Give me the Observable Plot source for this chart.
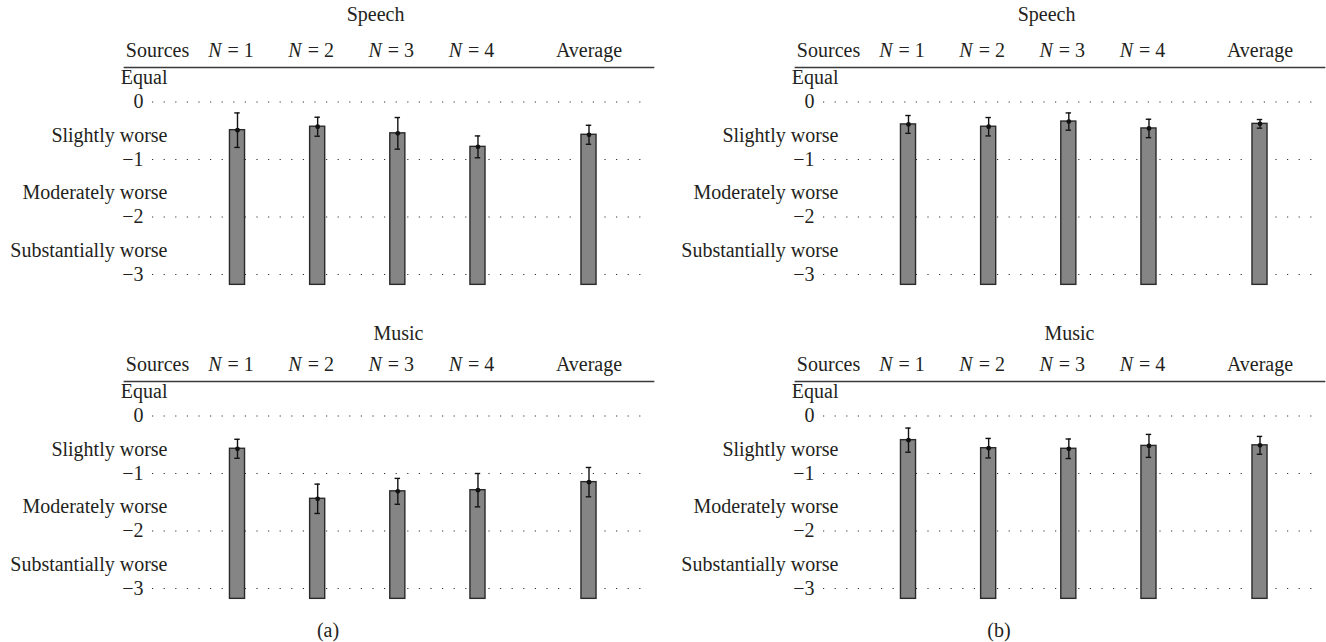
<!DOCTYPE html>
<html>
<head>
<meta charset="utf-8">
<script src="https://cdn.jsdelivr.net/npm/d3@7"></script>
<script src="https://cdn.jsdelivr.net/npm/@observablehq/plot@0.6"></script>
<style>
  html, body { margin: 0; padding: 0; background: #fff; }
  #figure {
    position: relative; width: 1326px; height: 642px; overflow: hidden;
    font-family: "Liberation Serif", "DejaVu Serif", serif; color: #231f20;
  }
  .panel { position: absolute; width: 655px; }
  .panel svg { display: block; }
  .caption {
    position: absolute; top: 618px; width: 60px; margin-left: -30px;
    text-align: center; font-size: 20px; line-height: 24px;
  }
</style>
</head>
<body>
<div id="figure"></div>
<script>
// Source conditions along the horizontal axis
const sources = ["N = 1", "N = 2", "N = 3", "N = 4", "Average"];

// Rating scale (ticks and their verbal anchors)
const ratingTicks = [0, -1, -2, -3];
const ratingLabels = ["Equal", "Slightly worse", "Moderately worse", "Substantially worse"];

// Mean ratings and error-bar half-widths, condition (a)
const speechMeanA = [-0.49, -0.43, -0.545, -0.78, -0.57];
const speechErrA  = [0.30, 0.165, 0.275, 0.19, 0.165];
const musicMeanA  = [-0.57, -1.44, -1.31, -1.29, -1.15];
const musicErrA   = [0.165, 0.255, 0.225, 0.29, 0.255];

// Mean ratings and error-bar half-widths, condition (b)
const speechMeanB = [-0.39, -0.43, -0.34, -0.46, -0.38];
const speechErrB  = [0.155, 0.16, 0.15, 0.16, 0.075];
const musicMeanB  = [-0.42, -0.56, -0.57, -0.52, -0.51];
const musicErrB   = [0.21, 0.17, 0.17, 0.2, 0.155];

// Layout
const FONT = "'Liberation Serif', 'DejaVu Serif', serif";
const INK = "#231f20";
const W = 655, H = 300;
const AVG_GAP = 1.385;          // extra spacing before the "Average" column
const AVG_SLOT = 3 + AVG_GAP;
const BAR_HALF = 0.094;         // half bar width, in slot units
const CAP_HALF = 0.034;         // half error-cap width, in slot units
const BAR_FLOOR = -3.18;        // bars start just below the −3 gridline
const HEADER_DY = -17.4;

const slotOf = (i) => (i < 4 ? i : AVG_SLOT);
const isCount = (d) => /^N\s*=/.test(d.source);

function panel({title, titleDx, titleDy, means, errs}) {
  const rows = sources.map((source, i) => ({source, slot: slotOf(i), mean: means[i], err: errs[i]}));
  const counts = rows.filter(isCount);
  const others = rows.filter((d) => !isCount(d));
  const header = {frameAnchor: "top", lineAnchor: "middle", dy: HEADER_DY, fill: INK};
  return Plot.plot({
    width: W,
    height: H,
    marginLeft: 124,
    marginRight: W - 653,
    marginTop: 67,
    marginBottom: 10,
    x: {type: "linear", domain: [0, AVG_SLOT], range: [237, 588.5], axis: null},
    y: {domain: [-3, 0], range: [274, 101.5], axis: null},
    style: {fontFamily: FONT, fontSize: "20px", color: INK, background: "white", overflow: "visible"},
    marks: [
      // rule under the column headers
      Plot.frame({anchor: "top", stroke: "#3a3a3a", strokeWidth: 1.7}),
      // dotted rating gridlines
      Plot.ruleY(ratingTicks, {
        y: (d) => d, stroke: "#333", strokeWidth: 1.2,
        strokeDasharray: "1.2 10.4", insetLeft: 28, insetRight: 6
      }),
      // numeric tick labels
      Plot.text(ratingTicks, {
        y: (d) => d, text: (d) => d3.format("d")(d),
        frameAnchor: "left", lineAnchor: "middle", textAnchor: "end", dx: 19, fill: INK
      }),
      // verbal anchors above each tick
      Plot.text(ratingTicks, {
        y: (d) => d, text: (d, i) => ratingLabels[i],
        frameAnchor: "left", lineAnchor: "middle", textAnchor: "end", dx: 43, dy: -24, fill: INK
      }),
      // panel title
      Plot.text([title], {
        text: (d) => d, frameAnchor: "top-left", lineAnchor: "middle",
        dx: titleDx, dy: titleDy, textAnchor: "middle", fill: INK
      }),
      // header row
      Plot.text(["Sources"], {
        ...header, text: (d) => d, frameAnchor: "top-left", dx: 33, textAnchor: "middle"
      }),
      Plot.text(counts, {
        ...header, x: "slot", text: () => "N", dx: -16, textAnchor: "end", fontStyle: "italic"
      }),
      Plot.text(counts, {
        ...header, x: "slot", text: (d) => d.source.replace(/^N\s*/, ""), dx: -10, textAnchor: "start"
      }),
      Plot.text(others, {...header, x: "slot", text: "source"}),
      // bars
      Plot.rect(rows, {
        x1: (d) => d.slot - BAR_HALF, x2: (d) => d.slot + BAR_HALF,
        y1: () => BAR_FLOOR, y2: "mean",
        fill: "#858585", stroke: "#2a2a2a", strokeWidth: 1.4
      }),
      // error bars
      Plot.ruleX(rows, {
        x: "slot", y1: (d) => d.mean - d.err, y2: (d) => d.mean + d.err,
        stroke: "#111", strokeWidth: 1.4
      }),
      Plot.ruleY(rows, {
        y: (d) => d.mean + d.err, x1: (d) => d.slot - CAP_HALF, x2: (d) => d.slot + CAP_HALF,
        stroke: "#111", strokeWidth: 1.4
      }),
      Plot.ruleY(rows, {
        y: (d) => d.mean - d.err, x1: (d) => d.slot - CAP_HALF, x2: (d) => d.slot + CAP_HALF,
        stroke: "#111", strokeWidth: 1.4
      }),
      Plot.dot(rows, {x: "slot", y: "mean", r: 2.4, fill: "#111", stroke: null})
    ]
  });
}

const figure = document.getElementById("figure");
function place(node, left, top) {
  const div = document.createElement("div");
  div.className = "panel";
  div.style.left = left + "px";
  div.style.top = top + "px";
  div.appendChild(node);
  figure.appendChild(div);
}

place(panel({title: "Speech", titleDx: 251, titleDy: -52.5, means: speechMeanA, errs: speechErrA}), 0, 0);
place(panel({title: "Speech", titleDx: 251, titleDy: -52.5, means: speechMeanB, errs: speechErrB}), 671, 0);
place(panel({title: "Music", titleDx: 274, titleDy: -47.5, means: musicMeanA, errs: musicErrA}), 0, 314);
place(panel({title: "Music", titleDx: 274, titleDy: -47.5, means: musicMeanB, errs: musicErrB}), 671, 314);

for (const [label, x] of [["(a)", 328], ["(b)", 999]]) {
  const cap = document.createElement("div");
  cap.className = "caption";
  cap.style.left = x + "px";
  cap.textContent = label;
  figure.appendChild(cap);
}
</script>
</body>
</html>
